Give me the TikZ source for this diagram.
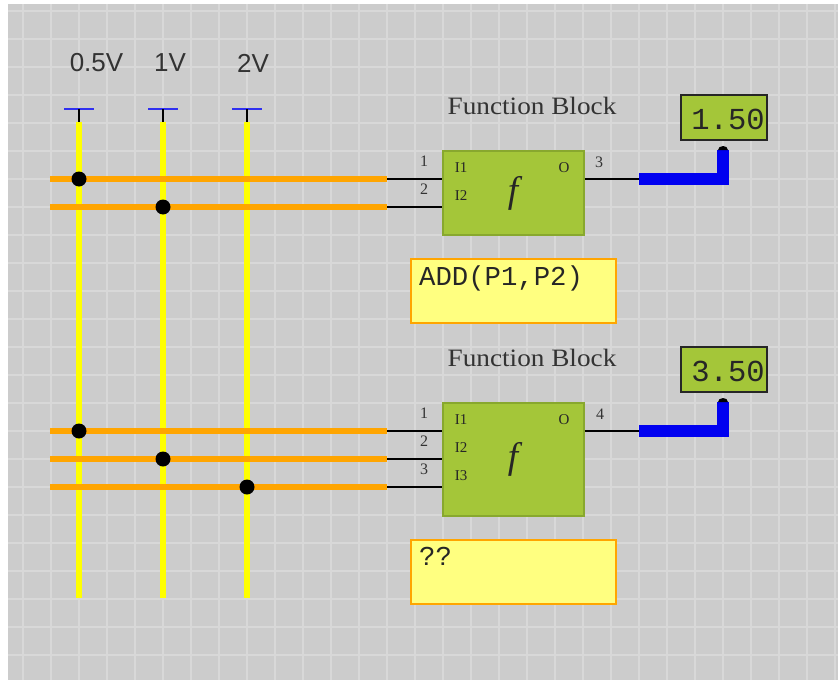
\documentclass[tikz,border=0pt]{standalone}
\usepackage{fontspec}
\usetikzlibrary{calc}
\setmainfont{Liberation Serif}
\setsansfont{Liberation Sans}
\setmonofont{Liberation Mono}
\newfontfamily\titlefont[FakeStretch=1.09]{Liberation Serif}
\definecolor{bggray}{HTML}{CCCCCC}
\definecolor{gridgray}{HTML}{D8D8D8}
\definecolor{blockgreen}{HTML}{A4C639}
\definecolor{blockedge}{HTML}{88A82E}
\definecolor{noteyellow}{HTML}{FFFF80}
\definecolor{railorange}{HTML}{FFA500}
\definecolor{railyellow}{HTML}{FFFF00}
\definecolor{pinblue}{HTML}{3030F0}
\definecolor{wireblue}{HTML}{0000F0}
\tikzset{
  fblock/.style={draw=blockedge,fill=blockgreen,line width=1.2pt,minimum width=141pt,inner sep=0pt},
  notebox/.style={draw=railorange,fill=noteyellow,line width=1.5pt,minimum width=205pt,minimum height=64pt,inner sep=0pt},
  display/.style={draw=black!85,fill=blockgreen,line width=1.5pt,minimum width=86pt,minimum height=45pt,inner sep=0pt},
  disptext/.style={inner sep=0pt,text=black!85,font=\ttfamily\fontsize{30.5}{30.5}\selectfont},
  notetext/.style={anchor=north west,inner sep=0pt,text=black!85,font=\ttfamily\fontsize{27.3}{27.3}\selectfont},
  title/.style={inner sep=0pt,text=black!80,font=\titlefont\fontsize{25}{25}\selectfont},
  voltlabel/.style={inner sep=0pt,text=black!80,font=\sffamily\fontsize{26}{26}\selectfont},
  pinnum/.style={inner sep=0pt,text=black!80,font=\fontsize{16}{16}\selectfont},
  pinname/.style={inner sep=0pt,text=black!85,font=\fontsize{15}{15}\selectfont},
  joint/.style={circle,fill=black,minimum size=15pt,inner sep=0pt},
  funcf/.style={inner sep=0pt,text=black!85,font=\itshape\fontsize{37}{37}\selectfont},
  railv/.style={railyellow,line width=6pt},
  railh/.style={railorange,line width=6pt},
  wire/.style={black,line width=1.5pt},
  busout/.style={wireblue,line width=12pt,line join=miter}
}
\begin{document}
\begin{tikzpicture}[x=1pt,y=-1pt]
  \useasboundingbox (0,0) rectangle (838,680);
  % background and grid
  \fill[bggray] (8,4) rectangle (838,680);
  \foreach \gx in {23,51,...,835}
    \draw[gridgray,line width=1.8pt] (\gx,4) -- (\gx,680);
  \foreach \gy in {11,39,...,680}
    \draw[gridgray,line width=1.8pt] (8,\gy) -- (838,\gy);
  % voltage rails
  \foreach \vx/\vname/\vtext/\vlx in {79/a/0.5V/96.5,163/b/1V/170,247/c/2V/253} {
    \node[voltlabel] (label\vname) at (\vlx,63) {\vtext};
    \coordinate (cap\vname) at (\vx,109);
    \coordinate (top\vname) at (\vx,122);
    \coordinate (end\vname) at (\vx,598);
    \draw[pinblue,line width=1.3pt] ($(cap\vname)+(-15,0)$) -- ($(cap\vname)+(15,0)$);
    \draw[wire] (cap\vname) -- (top\vname);
    \draw[railv] (top\vname) -- (end\vname);
  }
  % first block
  \node[title] (titleone) at (532,106) {Function Block};
  \node[fblock,minimum height=84pt] (fbone) at (513.5,193) {};
  \node[funcf] (fone) at (513,193) {f};
  \node[notebox] (noteone) at (513.5,291) {};
  \node[notetext] (noteonetext) at (419,266) {ADD(P1,P2)};
  \node[display] (dispone) at (724,117.5) {};
  \node[disptext] (valone) at (728,119) {1.50};
  \foreach \wy/\wnum/\wvolt in {179/1/a,207/2/b} {
    \coordinate (ones\wnum) at (50,\wy);
    \coordinate (onee\wnum) at (387,\wy);
    \draw[railh] (ones\wnum) -- (onee\wnum);
    \draw[wire] (onee\wnum) -- (onee\wnum -| fbone.west);
    \node[joint] (onej\wnum) at (top\wvolt |- ones\wnum) {};
    \node[pinnum] (onen\wnum) at (424,\wy-18) {\wnum};
    \node[pinname] (onei\wnum) at (461,\wy-11) {I\wnum};
  }
  \node[pinname] (oneo) at (564,168) {O};
  \node[pinnum] (oneout) at (599,162) {3};
  \coordinate (onebus) at (639,179);
  \coordinate (onebend) at (723,179);
  \coordinate (onetip) at (723,150);
  \draw[wire] (fbone.east |- onebus) -- (onebus);
  \draw[busout] (onebus) -- (onebend) -- (onetip);
  \fill[black] (onetip) ++(-5,0) arc[start angle=180,end angle=360,x radius=5,y radius=4] -- cycle;
  % second block
  \node[title] (titletwo) at (532,358) {Function Block};
  \node[fblock,minimum height=113pt] (fbtwo) at (513.5,459.5) {};
  \node[funcf] (ftwo) at (513,459) {f};
  \node[notebox] (notetwo) at (513.5,572) {};
  \node[notetext] (notetwotext) at (419,547) {??};
  \node[display] (disptwo) at (724,369.5) {};
  \node[disptext] (valtwo) at (728,371) {3.50};
  \foreach \wy/\wnum/\wvolt in {431/1/a,459/2/b,487/3/c} {
    \coordinate (twos\wnum) at (50,\wy);
    \coordinate (twoe\wnum) at (387,\wy);
    \draw[railh] (twos\wnum) -- (twoe\wnum);
    \draw[wire] (twoe\wnum) -- (twoe\wnum -| fbtwo.west);
    \node[joint] (twoj\wnum) at (top\wvolt |- twos\wnum) {};
    \node[pinnum] (twon\wnum) at (424,\wy-18) {\wnum};
    \node[pinname] (twoi\wnum) at (461,\wy-11) {I\wnum};
  }
  \node[pinname] (twoo) at (564,420) {O};
  \node[pinnum] (twoout) at (600,414) {4};
  \coordinate (twobus) at (639,431);
  \coordinate (twobend) at (723,431);
  \coordinate (twotip) at (723,402);
  \draw[wire] (fbtwo.east |- twobus) -- (twobus);
  \draw[busout] (twobus) -- (twobend) -- (twotip);
  \fill[black] (twotip) ++(-5,0) arc[start angle=180,end angle=360,x radius=5,y radius=4] -- cycle;
\end{tikzpicture}
\end{document}
